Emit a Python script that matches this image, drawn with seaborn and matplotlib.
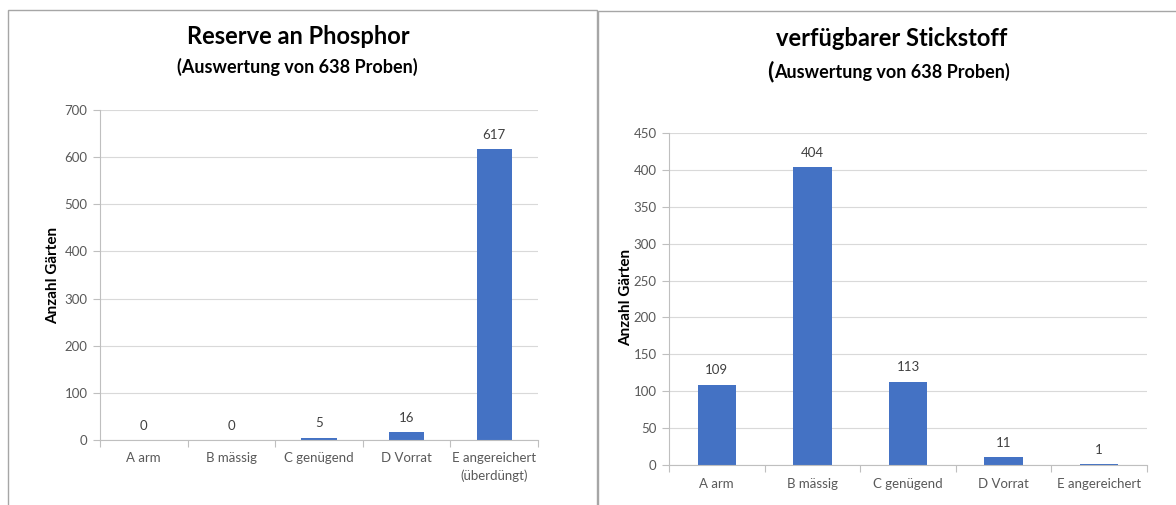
import matplotlib
matplotlib.use("Agg")
import matplotlib.pyplot as plt
import seaborn as sns
import pandas as pd
from matplotlib.patches import Rectangle

categories_p = ["A arm", "B mässig", "C genügend", "D Vorrat", "E angereichert\n(überdüngt)"]
values_p = [0, 0, 5, 16, 617]
categories_n = ["A arm", "B mässig", "C genügend", "D Vorrat", "E angereichert"]
values_n = [109, 404, 113, 11, 1]
title_p = "Reserve an Phosphor"
title_n = "verfügbarer Stickstoff"
subtitle = "(Auswertung von 638 Proben)"
ylabel = "Anzahl Gärten"

sns.set_theme(style="white")
plt.rcParams['font.family'] = ['Lato', 'DejaVu Sans']

W, H = 1176, 505
fig = plt.figure(figsize=(W / 100, H / 100), dpi=100)

BAR = "#4472C4"
GRID = "#D9D9D9"
AXC = "#BFBFBF"
TXT = "#595959"


def px_axes(l, r, t, b):
    return fig.add_axes([l / W, 1 - b / H, (r - l) / W, (b - t) / H])


def draw(ax, cats, vals, ymax, step, label_x_px, label_y_px, box):
    l, r, t, b = box
    df = pd.DataFrame({"cat": cats, "val": vals})
    sns.barplot(data=df, x="cat", y="val", ax=ax, color=BAR, saturation=1,
                width=0.4, edgecolor="none")
    ax.set_xlim(-0.5, len(cats) - 0.5)
    ax.set_ylim(0, ymax)
    ax.set_yticks(range(0, ymax + 1, step))
    ax.set_xticks([i - 0.5 for i in range(len(cats) + 1)], minor=True)
    ax.tick_params(axis="x", which="major", length=0, pad=9, labelsize=9.5, labelcolor=TXT)
    ax.tick_params(axis="x", which="minor", length=5, color=AXC, width=0.8, direction="out", bottom=True)
    ax.tick_params(axis="y", length=5, color=AXC, width=0.8, direction="out", left=True,
                   labelsize=9.5, labelcolor=TXT, pad=4)
    for lab in ax.get_xticklabels():
        lab.set_linespacing(1.5)
    ax.yaxis.grid(True, color=GRID, linewidth=0.8)
    ax.set_axisbelow(True)
    for s in ["top", "right"]:
        ax.spines[s].set_visible(False)
    for s in ["left", "bottom"]:
        ax.spines[s].set_color(AXC)
        ax.spines[s].set_linewidth(0.8)
    ax.set_xlabel("")
    ax.set_ylabel(ylabel, fontsize=11, fontweight="bold", color="black", va="center")
    ax.yaxis.set_label_coords((label_x_px - l) / (r - l), (b - label_y_px) / (b - t))
    for c in ax.containers:
        ax.bar_label(c, labels=[str(v) for v in vals], padding=6, fontsize=9.5, color="#404040")


box1 = (100, 538, 110, 440)
ax1 = px_axes(*box1)
draw(ax1, categories_p, values_p, 700, 100, 53, 275, box1)
box2 = (669, 1147, 133, 465)
ax2 = px_axes(*box2)
draw(ax2, categories_n, values_n, 450, 50, 626, 297, box2)

# panel borders
fig.patches.append(Rectangle((8 / W, -0.01), (597 - 8) / W, 1 - 10 / H + 0.01,
                             transform=fig.transFigure, fill=False, edgecolor="#A6A6A6", linewidth=1))
fig.patches.append(Rectangle((598 / W, -0.01), (1180 - 598) / W, 1 - 11 / H + 0.01,
                             transform=fig.transFigure, fill=False, edgecolor="#A6A6A6", linewidth=1))

fig.text(298 / W, 1 - 37 / H, title_p, ha="center", va="center", fontsize=17, fontweight="bold", color="black")
fig.text(297 / W, 1 - 67 / H, subtitle, ha="center", va="center", fontsize=13, fontweight="bold", color="black")
fig.text(892 / W, 1 - 38 / H, title_n, ha="center", va="center", fontsize=17, fontweight="bold", color="black")
fig.text(773 / W, 1 - 72 / H, subtitle[0], ha="right", va="center", fontsize=16.5, fontweight="bold", color="black")
fig.text(774 / W, 1 - 72 / H, subtitle[1:], ha="left", va="center", fontsize=13, fontweight="bold", color="black")

fig.savefig("out.png", dpi=100)
